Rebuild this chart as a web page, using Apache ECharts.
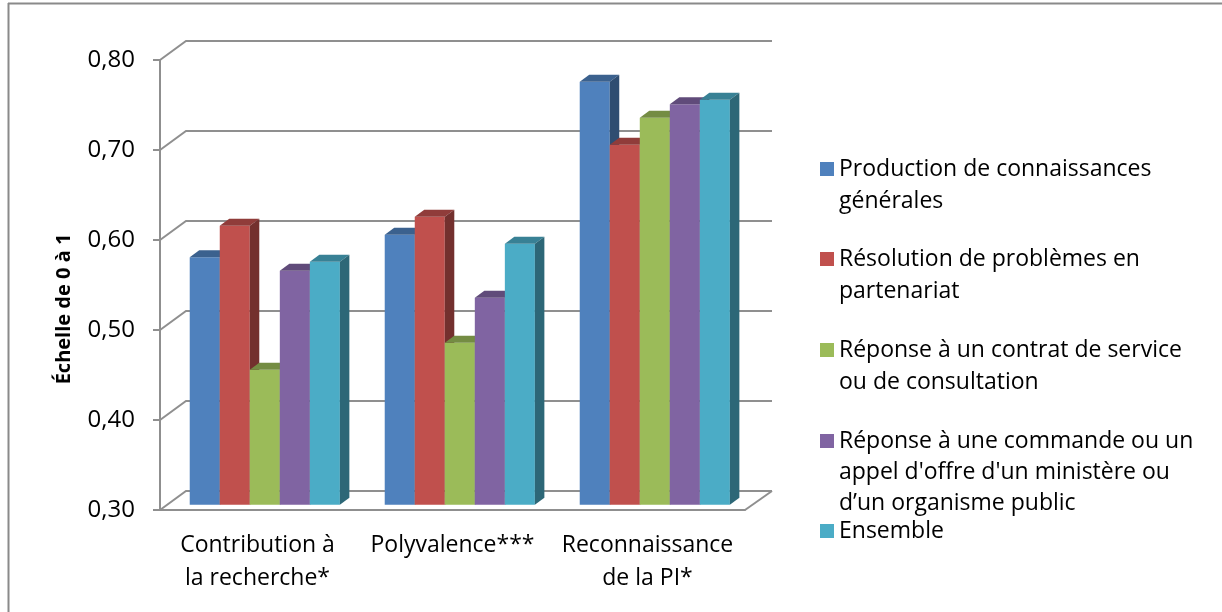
<!DOCTYPE html>
<html>
<head>
<meta charset="utf-8">
<script src="https://cdn.jsdelivr.net/npm/echarts@6/dist/echarts.min.js"></script>
<style>
  html, body { margin: 0; padding: 0; background: #fff; }
  #chart { width: 1222px; height: 612px; }
</style>
</head>
<body>
<div id="chart"></div>
<script>
var categories = ['Contribution à\nla recherche*', 'Polyvalence***', 'Reconnaissance\nde la PI*'];
var seriesNames = [
  'Production de connaissances générales',
  'Résolution de problèmes en partenariat',
  'Réponse à un contrat de service ou de consultation',
  "Réponse à une commande ou un appel d'offre d'un ministère ou d’un organisme public",
  'Ensemble'
];
var legendLabels = [
  'Production de connaissances\ngénérales',
  'Résolution de problèmes en\npartenariat',
  'Réponse à un contrat de service\nou de consultation',
  "Réponse à une commande ou un\nappel d'offre d'un ministère ou\nd’un organisme public",
  'Ensemble'
];
var production = [0.575, 0.60, 0.77];
var resolution = [0.61, 0.62, 0.70];
var contrat = [0.45, 0.48, 0.73];
var commande = [0.56, 0.53, 0.745];
var ensemble = [0.57, 0.59, 0.75];
var yTicks = [0.30, 0.40, 0.50, 0.60, 0.70, 0.80];

var values = [production, resolution, contrat, commande, ensemble];
var colors = ['#4f81bd', '#c0504d', '#9bbb59', '#8064a2', '#4bacc6'];
var font = 'Open Sans';
var lineGray = '#8f8f8f';

var chart = echarts.init(document.getElementById('chart'));

function shade(hex, f) {
  var n = parseInt(hex.slice(1), 16);
  var r = Math.round((n >> 16) * f);
  var g = Math.round(((n >> 8) & 255) * f);
  var b = Math.round((n & 255) * f);
  return 'rgb(' + r + ',' + g + ',' + b + ')';
}

// back wall : diagonal from the front axis, then the gridline
function wallItem(params, api) {
  var cs = params.coordSys;
  var y = api.coord([0, api.value(1)])[1];
  var x = cs.x, w = cs.width;
  var kids = [{
    type: 'polyline',
    shape: { points: [[x, y], [x + 26, y - 19], [x + w + 27, y - 19]] },
    style: { stroke: lineGray, lineWidth: 2, fill: null }
  }];
  if (api.value(1) === yTicks[0]) {
    kids.push({
      type: 'line',
      shape: { x1: x + w, y1: y, x2: x + w + 27, y2: y - 19 },
      style: { stroke: lineGray, lineWidth: 2 }
    });
  }
  return { type: 'group', children: kids };
}

function barItem(k) {
  return function(params, api) {
    var ci = api.value(0);
    var base = api.coord([ci, yTicks[0]]);
    var top = api.coord([ci, api.value(1)]);
    var band = api.size([1, 0])[0];
    var bw = band * 0.77 / 5;
    var x0 = base[0] - bw * 2.5 + k * bw + 7.3;
    var yb = base[1] - 5.3, yt = top[1] - 5.3;
    var dx = 9.5, dy = 7;
    var c = colors[k];
    return {
      type: 'group',
      children: [{
        type: 'rect',
        shape: { x: x0, y: yt, width: bw, height: yb - yt },
        style: { fill: c }
      }, {
        type: 'polygon',
        shape: { points: [[x0, yt], [x0 + bw, yt], [x0 + bw + dx, yt - dy], [x0 + dx, yt - dy]] },
        style: { fill: shade(c, 0.75) }
      }, {
        type: 'polygon',
        shape: { points: [[x0 + bw, yt], [x0 + bw + dx, yt - dy], [x0 + bw + dx, yb - dy], [x0 + bw, yb]] },
        style: { fill: shade(c, 0.6) }
      }]
    };
  };
}

var series = [{
  name: 'wall',
  type: 'custom',
  silent: true,
  renderItem: wallItem,
  data: yTicks.map(function(v) { return [0, v]; }),
  z: 1
}];
values.forEach(function(arr, k) {
  series.push({
    name: seriesNames[k],
    type: 'custom',
    renderItem: barItem(k),
    itemStyle: { color: colors[k] },
    data: arr.map(function(v, i) { return [i, v]; }),
    z: 2
  });
});

// one legend per item, icon lined up with the first text line
var iconCenters = [169, 259, 350, 441, 531];
var legends = legendLabels.map(function(label, i) {
  var n = label.split('\n').length;
  var lh = n > 2 ? 31 : 32;
  return {
    data: [seriesNames[i]],
    left: 820,
    top: iconCenters[i] - (2 * n - 1) * lh / 2,
    padding: 0,
    icon: 'rect',
    itemWidth: 14,
    itemHeight: 14,
    itemGap: 0,
    selectedMode: false,
    formatter: function() { return new Array(n).join('\n') + label; },
    textStyle: { fontFamily: font, fontSize: 23, lineHeight: lh, color: '#000' }
  };
});

var option = {
  backgroundColor: '#fff',
  animation: false,
  legend: legends,
  graphic: [{
    type: 'line',
    shape: { x1: 8, y1: 3.5, x2: 1222, y2: 3.5 },
    style: { stroke: '#8a8a8a', lineWidth: 2 }
  }, {
    type: 'line',
    shape: { x1: 8.5, y1: 3, x2: 8.5, y2: 612 },
    style: { stroke: '#8a8a8a', lineWidth: 2 }
  }],
  grid: { left: 160, top: 60, width: 585, height: 450 },
  xAxis: {
    type: 'category',
    data: categories,
    axisLine: { lineStyle: { color: lineGray, width: 2 } },
    axisTick: { length: 6, lineStyle: { color: lineGray, width: 2 } },
    axisLabel: { interval: 0, margin: 19, fontFamily: font, fontSize: 23, lineHeight: 33, color: '#000' }
  },
  yAxis: {
    type: 'value',
    min: 0.3,
    max: 0.8,
    interval: 0.1,
    name: 'Échelle de 0 à 1',
    nameLocation: 'middle',
    nameRotate: 90,
    nameGap: 86,
    nameTextStyle: { fontFamily: font, fontSize: 20, fontWeight: 'bold', color: '#000', padding: [0, 48, 0, 0] },
    axisLine: { show: true, lineStyle: { color: lineGray, width: 2 } },
    axisTick: { show: true, length: 7, lineStyle: { color: lineGray, width: 2 } },
    splitLine: { show: false },
    axisLabel: {
      margin: 25,
      fontFamily: font,
      fontSize: 24,
      color: '#000',
      formatter: function(v) { return v.toFixed(2).replace('.', ','); }
    }
  },
  series: series
};

chart.setOption(option);
window.addEventListener('resize', function() { chart.resize(); });
</script>
</body>
</html>
